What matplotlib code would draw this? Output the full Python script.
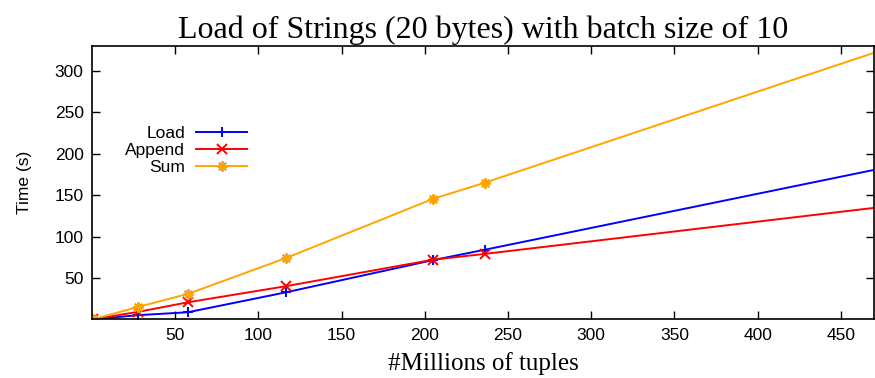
import matplotlib
matplotlib.use("Agg")
import matplotlib.pyplot as plt

# Millions of tuples loaded
tuples = [0.5, 27.8, 57.6, 116.6, 205, 236, 470]
# Elapsed time in seconds
load = [0.0, 5.0, 8.5, 32.6, 71.5, 84.0, 180.5]
append = [0.0, 9.0, 20.5, 40.0, 72.0, 79.0, 134.6]
total = [0.0, 15.0, 30.6, 74.0, 145.5, 165.0, 322.0]

xticks = [50, 100, 150, 200, 250, 300, 350, 400, 450]
yticks = [50, 100, 150, 200, 250, 300]

sans = "Liberation Sans"
serif = "Liberation Serif"

fig = plt.figure(figsize=(8.75, 3.78), dpi=100)
ax = fig.add_axes([0.1051, 0.1553, 0.8939, 0.7227])

n_marked = len(tuples) - 1
series = [
    ("Load", load, "#0000ff", "+"),
    ("Append", append, "#ff0000", "x"),
    ("Sum", total, "#ffa500", (8, 2, 0)),
]
for name, vals, col, mk in series:
    ax.plot(tuples, vals, color=col, lw=1.4, marker=mk, markersize=7.5,
            markeredgewidth=1.4, markevery=list(range(n_marked)),
            label=name, clip_on=True)

ax.set_xlim(0, 470)
ax.set_ylim(0, 330)
ax.set_xticks(xticks)
ax.set_yticks(yticks)
ax.tick_params(direction="in", top=True, right=True, length=6, width=1,
               labelsize=12.5, pad=6)
for lab in ax.get_xticklabels() + ax.get_yticklabels():
    lab.set_fontfamily(sans)
for s in ax.spines.values():
    s.set_linewidth(1.2)

ax.set_title("Load of Strings (20 bytes) with batch size of 10",
             fontfamily=serif, fontsize=23, pad=6)
ax.set_xlabel("#Millions of tuples", fontfamily=serif, fontsize=18, labelpad=7)
ax.set_ylabel("Time (s)", fontfamily=sans, fontsize=12.5, labelpad=16)

leg = ax.legend(loc="upper right", bbox_to_anchor=(0.198, 0.708), frameon=False,
                borderpad=0, borderaxespad=0, markerfirst=False,
                handlelength=2.9, handletextpad=0.65, labelspacing=0.1,
                prop={"family": sans, "size": 12.5})

fig.savefig("out.png", dpi=100)
